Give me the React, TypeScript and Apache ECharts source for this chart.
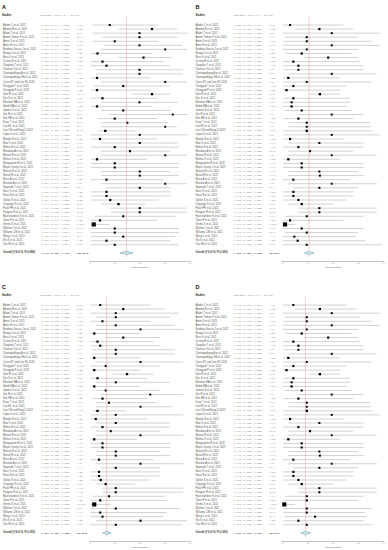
import React, { useEffect, useRef } from "react";
import * as echarts from "echarts";

const panelLabels = ["A", "B", "C", "D"];

const studies = [
  "Abebe C et al. 2021", "Ahmed M et al. 2020", "Allami T et al. 2021", "Ameer Tomas F et al. 2021", "Amini S et al. 2021",
  "Amiri H et al. 2021", "Bandara Garcia J et al. 2021", "Bengal J et al. 2021", "Bess K et al. 2021", "Cicotta R et al. 2021",
  "Chapolar T et al. 2021", "Chatterji S et al. 2021", "Chattopadhyay A et al. 2022", "Chattopadhyay SB et al. 2022", "Cross ET and Lee SK 2020",
  "Chingjadi T et al. 2021", "Chingjadi P et al. 2022", "Dale R et al. 2021", "Das S et al. 2021", "Ebrahim MA et al. 2021",
  "Habib MA et al. 2022", "Jamieu S et al. 2022", "Jha R et al. 2021", "Kim HB et al. 2021", "Kuria T et al. 2021",
  "Lee HC et al. 2021", "Lee CH and Hung D 2022", "Lopez S et al. 2021", "Maeda N et al. 2021", "Mao X et al. 2021",
  "Mehta B et al. 2022", "Mendoza A et al. 2021", "Menon R et al. 2021", "Mishra S et al. 2021", "Mengazetta M et al. 2022",
  "Meyer-Young J et al. 2021", "Muntari B et al. 2021", "Murali M et al. 2021", "Musa A et al. 2022", "Mustafa A et al. 2021",
  "Nagenda T et al. 2022", "Nasri S et al. 2021", "Nunn B et al. 2022", "Okeke S et al. 2021", "Onyango S et al. 2022",
  "Patel PR et al. 2021", "Pangare R et al. 2021", "Ravichandran K et al. 2021", "Talon P et al. 2021", "Verma S et al. 2021",
  "Watkins J et al. 2021", "Williams CM et al. 2021", "Wang L et al. 2022", "Wu S et al. 2022", "Yan HZ et al. 2022",
];

const sampleSizes = [
  12, 25, 8, 14, 12, 10, 6, 30, 20, 22,
  18, 9, 9, 32, 6, 13, 32, 40, 24, 10,
  30, 14, 7, 22, 16, 6, 45, 8, 25, 10,
  16, 15, 6, 35, 16, 16, 10, 10, 20, 6,
  14, 20, 20, 22, 40, 12, 12, 14, 25, 600,
  16, 16, 14, 20, 16,
];

const estA = [0.079,0.248,0.198,0.198,0.099,0.198,0.301,0.030,0.214,0.050, 0.066,0.198,0.198,0.028,0.301,0.133,0.028,0.248,0.050,0.198, 0.028,0.133,0.331,0.099,0.149,0.301, 0.061,0.199,0.040,0.199,0.099,0.160,0.301,0.028,0.099,0.099, 0.199,0.199,0.066,0.301,0.199,0.066,0.066,0.081,0.114,0.199, 0.199,0.133,0.040,0.015,0.099,0.099,0.133,0.066,0.099];
const loA = [0.011,0.114,0.011,0.050,0.011,0.055,0.044,0.004,0.114,0.004, 0.004,0.024,0.024,0.004,0.044,0.016,0.004,0.169,0.004,0.044, 0.004,0.044,0.075,0.030,0.044,0.044, 0.030,0.004,0.004,0.044,0.004,0.044,0.044,0.004,0.004,0.004, 0.044,0.044,0.004,0.044,0.063,0.004,0.004,0.004,0.044,0.083, 0.083,0.017,0.004,0.004,0.004,0.004,0.004,0.004,0.004];
const hiA = [0.273,0.349,0.392,0.349,0.273,0.368,0.388,0.250,0.327,0.293, 0.321,0.372,0.372,0.242,0.388,0.321,0.242,0.321,0.268,0.352, 0.250,0.321,0.392,0.268,0.313,0.347, 0.182,0.393,0.268,0.354,0.354,0.321,0.387,0.228,0.354,0.354, 0.321,0.354,0.294,0.387,0.321,0.321,0.321,0.275,0.222,0.387, 0.387,0.341,0.268,0.077,0.354,0.354,0.341,0.321,0.354];

const estB = [0.030,0.146,0.195,0.096,0.096,0.195,0.096,0.076,0.181,0.043, 0.063,0.063,0.195,0.023,0.096,0.043,0.016,0.148,0.043,0.036, 0.036,0.076,0.195,0.063,0.096,0.096,0.096, 0.195,0.030,0.146,0.063,0.109,0.195,0.023,0.076,0.076, 0.146,0.148,0.043,0.195,0.146,0.043,0.043,0.063,0.076,0.146, 0.146,0.096,0.030,0.010,0.076,0.096,0.047,0.060,0.096];
const loB = [0.002,0.050,0.003,0.010,0.003,0.003,0.002,0.010,0.083,0.002, 0.002,0.002,0.023,0.002,0.003,0.002,0.002,0.109,0.002,0.002, 0.002,0.010,0.063,0.003,0.023,0.023,0.003, 0.003,0.002,0.023,0.002,0.023,0.023,0.002,0.002,0.002, 0.023,0.023,0.002,0.023,0.043,0.002,0.002,0.002,0.023,0.063, 0.063,0.010,0.002,0.002,0.002,0.010,0.002,0.002,0.002];
const hiB = [0.241,0.280,0.386,0.300,0.353,0.386,0.300,0.274,0.300,0.307, 0.320,0.320,0.373,0.228,0.353,0.254,0.228,0.228,0.267,0.267, 0.254,0.274,0.320,0.280,0.347,0.347,0.353, 0.386,0.241,0.320,0.320,0.280,0.373,0.228,0.320,0.320, 0.300,0.320,0.267,0.373,0.300,0.280,0.280,0.254,0.201,0.373, 0.373,0.320,0.241,0.050,0.320,0.300,0.290,0.330,0.393];

const estC = [0.041,0.133,0.103,0.103,0.050,0.103,0.202,0.017,0.133,0.030, 0.041,0.103,0.103,0.017,0.202,0.063,0.017,0.148,0.030,0.103, 0.017,0.063,0.241,0.050,0.076,0.202,0.030, 0.103,0.023,0.103,0.050,0.083,0.202,0.017,0.050,0.050, 0.103,0.103,0.036,0.202,0.103,0.036,0.036,0.043,0.063,0.103, 0.103,0.076,0.041,0.017,0.103,0.041,0.050,0.202,0.103];
const loC = [0.003,0.043,0.003,0.023,0.003,0.023,0.023,0.003,0.063,0.003, 0.003,0.010,0.010,0.003,0.023,0.003,0.003,0.090,0.003,0.023, 0.003,0.023,0.043,0.010,0.023,0.023,0.010, 0.003,0.003,0.023,0.003,0.023,0.023,0.003,0.003,0.003, 0.023,0.023,0.003,0.023,0.043,0.003,0.003,0.003,0.023,0.050, 0.050,0.010,0.003,0.003,0.003,0.003,0.003,0.024,0.003];
const hiC = [0.241,0.300,0.353,0.320,0.241,0.340,0.373,0.201,0.280,0.254, 0.280,0.340,0.340,0.201,0.373,0.280,0.201,0.254,0.228,0.320, 0.201,0.280,0.373,0.228,0.267,0.330,0.146, 0.373,0.228,0.320,0.320,0.280,0.373,0.188,0.320,0.320, 0.280,0.320,0.254,0.373,0.280,0.280,0.280,0.241,0.181,0.373, 0.373,0.300,0.307,0.083,0.360,0.307,0.294,0.387,0.367];

const estD = [0.043,0.148,0.195,0.096,0.096,0.195,0.096,0.076,0.181,0.043, 0.063,0.063,0.195,0.023,0.096,0.043,0.016,0.148,0.043,0.036, 0.036,0.076,0.195,0.063,0.096,0.096,0.096, 0.195,0.030,0.146,0.063,0.109,0.195,0.023,0.076,0.076, 0.146,0.148,0.043,0.195,0.146,0.043,0.043,0.063,0.076,0.146, 0.146,0.096,0.096,0.007,0.096,0.096,0.129,0.063,0.096];
const loD = [0.002,0.050,0.003,0.010,0.003,0.003,0.002,0.010,0.083,0.002, 0.002,0.002,0.023,0.002,0.003,0.002,0.002,0.109,0.002,0.002, 0.002,0.010,0.063,0.003,0.023,0.023,0.003, 0.003,0.002,0.023,0.002,0.023,0.023,0.002,0.002,0.002, 0.023,0.023,0.002,0.023,0.043,0.002,0.002,0.002,0.023,0.063, 0.063,0.010,0.003,0.002,0.003,0.003,0.006,0.003,0.003];
const hiD = [0.254,0.294,0.386,0.307,0.353,0.386,0.300,0.274,0.300,0.307, 0.320,0.320,0.373,0.228,0.353,0.254,0.228,0.228,0.267,0.267, 0.254,0.274,0.320,0.280,0.347,0.347,0.353, 0.386,0.241,0.320,0.320,0.280,0.373,0.228,0.320,0.320, 0.300,0.320,0.267,0.373,0.300,0.280,0.280,0.254,0.201,0.373, 0.373,0.320,0.300,0.050,0.353,0.327,0.333,0.320,0.353];

const overallEst = [0.146, 0.105, 0.067, 0.091];
const overallLo = [0.120, 0.086, 0.050, 0.072];
const overallHi = [0.172, 0.125, 0.085, 0.111];
const overallP = ["0.999", "1.000", "1.000", "1.000"];

const xTicks = [0, 0.1, 0.2, 0.3, 0.4];

const panelEst = [estA, estB, estC, estD];
const panelLo = [loA, loB, loC, loD];
const panelHi = [hiA, hiB, hiC, hiD];

const ROW_H = 4.07;
const N_HEAD = 2;
const OVERALL_IDX = N_HEAD + studies.length + 1;
const N_CATS = OVERALL_IDX + 2;

function f3(v: number) {
  return v.toFixed(3);
}

function buildOption() {
  const grid: any[] = [];
  const xAxis: any[] = [];
  const yAxis: any[] = [];
  const series: any[] = [];
  const graphic: any[] = [];
  const cats: string[] = [];
  for (let i = 0; i < N_CATS; i++) cats.push("c" + i);

  const totalN = sampleSizes.reduce((a, b) => a + b, 0);

  panelLabels.forEach((lab, p) => {
    const ox = (p % 2) * 193.5;
    const oy = Math.floor(p / 2) * 280;
    const est = panelEst[p];
    const lo = panelLo[p];
    const hi = panelHi[p];
    const events = est.map((e, i) => Math.round(e * sampleSizes[i]));
    const totalEv = events.reduce((a, b) => a + b, 0);
    const top = 25 + oy - N_HEAD * ROW_H - ROW_H / 2;

    grid.push({ left: 89 + ox, top, width: 101, height: N_CATS * ROW_H });
    xAxis.push({
      type: "value",
      gridIndex: p,
      min: xTicks[0],
      max: xTicks[xTicks.length - 1],
      interval: 0.1,
      offset: 2,
      axisLine: { show: true, lineStyle: { color: "#888", width: 0.5 } },
      axisTick: { show: true, length: 1.2, lineStyle: { color: "#888", width: 0.5 } },
      axisLabel: { fontSize: 2, color: "#777", margin: 1.5, fontFamily: "Liberation Sans" },
      splitLine: { show: false },
      name: "Logit Proportion",
      nameLocation: "middle",
      nameGap: 5.5,
      nameTextStyle: { fontSize: 2.4, color: "#555", fontFamily: "Liberation Sans" },
    });
    yAxis.push({
      type: "category",
      gridIndex: p,
      data: cats,
      inverse: true,
      axisLine: { show: false },
      axisTick: { show: false },
      splitLine: { show: false },
      axisLabel: {
        interval: 0,
        align: "left",
        margin: 87,
        hideOverlap: false,
        formatter: (_v: string, idx: number) => {
          if (idx === OVERALL_IDX) {
            return `{on|Overall (I^2=0 %, P=${overallP[p]})}{oe|${f3(overallEst[p])} (${f3(overallLo[p])}, ${f3(overallHi[p])})}{ov|${totalEv}/${totalN}}`;
          }
          const i = idx - N_HEAD;
          if (i < 0 || i >= studies.length) return "";
          return `{n|${studies[i]}}{e|${f3(est[i])} (${f3(lo[i])}, ${f3(hi[i])})}{v|${events[i]}/${sampleSizes[i]}}`;
        },
        rich: {
          n: { fontSize: 2.6, color: "#555", width: 38.5, fontFamily: "Liberation Sans" },
          e: { fontSize: 2.4, color: "#777", width: 35.5, fontFamily: "Liberation Mono" },
          v: { fontSize: 2.4, color: "#777", fontFamily: "Liberation Mono" },
          on: { fontSize: 2.6, color: "#333", fontWeight: "bold", width: 38.5, fontFamily: "Liberation Sans" },
          oe: { fontSize: 2.4, color: "#444", fontWeight: "bold", width: 35.5, fontFamily: "Liberation Mono" },
          ov: { fontSize: 2.4, color: "#444", fontWeight: "bold", fontFamily: "Liberation Mono" },
        },
      },
    });

    series.push({
      type: "custom",
      xAxisIndex: p,
      yAxisIndex: p,
      encode: { x: 0, y: 1 },
      data: est.map((e, i) => [e, i + N_HEAD, lo[i], hi[i], Math.min(4.3, 1.7 + Math.sqrt(sampleSizes[i]) * 0.1)]),
      renderItem: (_params: any, api: any) => {
        const row = api.value(1);
        const c = api.coord([api.value(0), row]);
        const l = api.coord([api.value(2), row]);
        const h = api.coord([api.value(3), row]);
        const s = api.value(4);
        return {
          type: "group",
          children: [
            { type: "line", shape: { x1: l[0], y1: c[1], x2: h[0], y2: c[1] }, style: { stroke: "#cdcdcd", lineWidth: 0.9 } },
            { type: "rect", shape: { x: c[0] - s / 2, y: c[1] - s / 2, width: s, height: s }, style: { fill: "#000" } },
          ],
        };
      },
      z: 2,
    });

    series.push({
      type: "line",
      xAxisIndex: p,
      yAxisIndex: p,
      data: [[overallEst[p], 0], [overallEst[p], N_CATS - 1]],
      symbol: "none",
      silent: true,
      lineStyle: { color: "#ec9a9a", width: 0.5 },
      z: 3,
    });

    series.push({
      type: "custom",
      xAxisIndex: p,
      yAxisIndex: p,
      encode: { x: 0, y: 1 },
      data: [[overallEst[p], OVERALL_IDX, overallLo[p], overallHi[p]]],
      renderItem: (_params: any, api: any) => {
        const row = api.value(1);
        const c = api.coord([api.value(0), row]);
        const l = api.coord([api.value(2), row]);
        const h = api.coord([api.value(3), row]);
        return {
          type: "polygon",
          shape: { points: [[l[0], c[1]], [c[0], c[1] - 1.7], [h[0], c[1]], [c[0], c[1] + 1.7]] },
          style: { fill: "#d3e6ec", stroke: "#5f9bb0", lineWidth: 0.5 },
        };
      },
      z: 4,
    });

    graphic.push(
      { type: "text", left: 2 + ox, top: 4 + oy, style: { text: lab, fontSize: 5.5, fontWeight: "bold", fill: "#111", fontFamily: "Liberation Sans" } },
      { type: "text", left: 2 + ox, top: 13.7 + oy, style: { text: "Studies", fontSize: 2.6, fontWeight: "bold", fill: "#222", fontFamily: "Liberation Sans" } },
      { type: "text", left: 40.5 + ox, top: 14 + oy, style: { text: "Estimate (95% C.I.)  Ev/Trt", fontSize: 2.4, fill: "#777", fontFamily: "Liberation Mono" } }
    );
  });

  return { animation: false, backgroundColor: "#fff", grid, xAxis, yAxis, series, graphic };
}

export default function App() {
  const ref = useRef<HTMLDivElement>(null);
  useEffect(() => {
    if (!ref.current) return;
    const chart = echarts.init(ref.current, undefined, { renderer: "svg" });
    chart.setOption(buildOption() as any);
    return () => chart.dispose();
  }, []);
  return (
    <div
      ref={ref}
      style={{ position: "fixed", left: 0, top: 0, width: 388, height: 550, background: "#fff" }}
    />
  );
}
